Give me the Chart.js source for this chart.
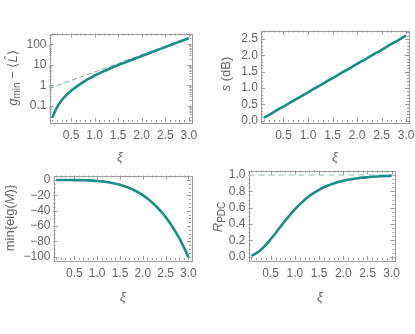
<!DOCTYPE html>
<html>
<head>
<meta charset="utf-8">
<script src="https://cdn.jsdelivr.net/npm/chart.js@4.4.1/dist/chart.umd.min.js"></script>
<style>
  html, body { margin: 0; padding: 0; background: #fff; }
  #wrap { position: relative; width: 415px; height: 334px; overflow: hidden; }
  #wrap canvas { position: absolute; left: 0; top: 0; }
</style>
</head>
<body>
<div id="wrap">
  <canvas id="c1" width="415" height="334"></canvas>
  <canvas id="c2" width="415" height="334"></canvas>
  <canvas id="c3" width="415" height="334"></canvas>
  <canvas id="c4" width="415" height="334"></canvas>
</div>
<script>
// squeezing parameter xi (shared by all four panels)
const xi = [0.1, 0.2, 0.3, 0.4, 0.5, 0.6, 0.7, 0.8, 0.9, 1.0,
            1.1, 1.2, 1.3, 1.4, 1.5, 1.6, 1.7, 1.8, 1.9, 2.0,
            2.1, 2.2, 2.3, 2.4, 2.5, 2.6, 2.7, 2.8, 2.9, 3.0];

// top left: g_min - <L>  (log axis)
const gMinusL = [0.027, 0.085, 0.19, 0.34, 0.55, 0.83, 1.2, 1.68, 2.28, 3.0,
                 3.9, 5.0, 6.3, 7.9, 9.8, 12.1, 14.8, 18.1, 22.2, 27.1,
                 33.2, 40.6, 49.6, 60.6, 74.1, 90.5, 110.6, 135, 165, 201];
// dashed asymptote (straight on the log axis)
const asymXi = [0.042, 3.0];
const asymVals = [0.72, 215];

// top right: s (dB)
const sDb = [0.09, 0.17, 0.26, 0.35, 0.43, 0.52, 0.61, 0.69, 0.78, 0.87,
             0.96, 1.04, 1.13, 1.22, 1.30, 1.39, 1.48, 1.56, 1.65, 1.74,
             1.82, 1.91, 2.00, 2.08, 2.17, 2.26, 2.35, 2.43, 2.52, 2.61];

// bottom left: min{eig(M)}
const minEig = [0, 0, -0.01, -0.03, -0.08, -0.16, -0.3, -0.51, -0.81, -1.23,
                -1.81, -2.56, -3.53, -4.74, -6.25, -8.09, -10.3, -13.0, -16.1, -19.8,
                -24.0, -28.9, -34.5, -41.0, -48.2, -56.4, -65.6, -75.9, -87.3, -100.4];

// bottom right: R_PDC, with dashed limit at 1
const rPdc = [0.01, 0.04, 0.085, 0.144, 0.214, 0.288, 0.365, 0.441, 0.513, 0.58,
              0.641, 0.695, 0.743, 0.784, 0.819, 0.85, 0.875, 0.896, 0.914, 0.929,
              0.942, 0.952, 0.961, 0.968, 0.973, 0.978, 0.982, 0.985, 0.988, 0.99];
const rLimit = 1;

// tick labels
const xTicks = [0.5, 1.0, 1.5, 2.0, 2.5, 3.0];
const gTicks = [0.1, 1, 10, 100];
const sTicks = [0, 0.5, 1.0, 1.5, 2.0, 2.5];
const eigTicks = [0, -20, -40, -60, -80, -100];
const rTicks = [0, 0.2, 0.4, 0.6, 0.8, 1.0];

const TEAL = '#1c8c87';
const FRAME = '#9c9c9c';
const TXT = '#666666';
const FONT = '"Liberation Sans", Arial, sans-serif';
const XMIN = 0.042, XMAX = 3.058;

const pts = (xs, ys) => xs.map((x, i) => ({ x: x, y: ys[i] }));

// draws a label made of plain / italic / subscript pieces
function drawRich(ctx, segs, cx, cy, rotate) {
  const fontOf = s => (s.it ? 'italic ' : '') + (s.sub ? 10 : 13) + 'px ' + FONT;
  ctx.save();
  ctx.translate(cx, cy);
  if (rotate) ctx.rotate(-Math.PI / 2);
  let total = 0;
  segs.forEach(s => { ctx.font = fontOf(s); s.w = ctx.measureText(s.t).width; total += s.w; });
  let x = -total / 2;
  ctx.fillStyle = TXT;
  ctx.textBaseline = 'middle';
  ctx.textAlign = 'left';
  segs.forEach(s => {
    ctx.font = fontOf(s);
    ctx.fillText(s.t, x, s.sub ? 4 : 0);
    x += s.w;
  });
  ctx.restore();
}

// Mathematica-like frame: box with inward ticks on all four sides + axis titles
const framePlugin = {
  id: 'frame',
  beforeDatasetsDraw(chart, args, opts) {
    const ctx = chart.ctx;
    const a = chart.chartArea;
    const xs = chart.scales.x, ys = chart.scales.y;
    ctx.save();
    ctx.strokeStyle = FRAME;
    ctx.lineWidth = 1;
    ctx.strokeRect(Math.round(a.left) + 0.5, Math.round(a.top) + 0.5,
                   Math.round(a.right - a.left), Math.round(a.bottom - a.top));
    ctx.beginPath();
    const xTick = (v, len) => {
      const p = Math.round(xs.getPixelForValue(v)) + 0.5;
      if (p < a.left || p > a.right) return;
      ctx.moveTo(p, a.bottom); ctx.lineTo(p, a.bottom - len);
      ctx.moveTo(p, a.top); ctx.lineTo(p, a.top + len);
    };
    const yTick = (v, len) => {
      const p = Math.round(ys.getPixelForValue(v)) + 0.5;
      if (p < a.top || p > a.bottom) return;
      ctx.moveTo(a.left, p); ctx.lineTo(a.left + len, p);
      ctx.moveTo(a.right, p); ctx.lineTo(a.right - len, p);
    };
    for (let k = 1; k <= 30; k++) xTick(k / 10, k % 5 === 0 ? 4 : 2);
    opts.yMajor.forEach(v => yTick(v, 4));
    opts.yMinor.forEach(v => yTick(v, 2));
    ctx.stroke();
    ctx.restore();
  },
  afterDraw(chart, args, opts) {
    drawRich(chart.ctx, opts.yTitle, opts.yPos[0], opts.yPos[1], true);
    drawRich(chart.ctx, [{ t: 'ξ', it: true }], opts.xPos[0], opts.xPos[1], false);
  }
};

function makePanel(id, box, yScale, datasets, frameOpts) {
  const AXH = 22;
  return new Chart(document.getElementById(id), {
    type: 'line',
    data: { datasets: datasets },
    options: {
      responsive: false,
      animation: false,
      events: [],
      layout: { padding: { left: 0, top: box.t, right: 415 - box.r, bottom: 334 - box.b - AXH } },
      plugins: { legend: { display: false }, tooltip: { enabled: false }, frame: frameOpts },
      elements: { point: { radius: 0 } },
      scales: {
        x: {
          type: 'linear', min: XMIN, max: XMAX,
          grid: { display: false, drawTicks: false }, border: { display: false },
          afterBuildTicks: s => { s.ticks = xTicks.map(v => ({ value: v })); },
          afterFit: s => { s.height = AXH; s.paddingLeft = 0; s.paddingRight = 0; },
          ticks: { autoSkip: false, maxRotation: 0, padding: 6, color: TXT,
                   font: { family: FONT, size: 12 }, callback: v => v.toFixed(1) }
        },
        y: Object.assign({
          grid: { display: false, drawTicks: false }, border: { display: false },
          afterFit: s => { s.width = box.l; s.paddingTop = 0; s.paddingBottom = 0; }
        }, yScale)
      }
    },
    plugins: [framePlugin]
  });
}

const mainLine = data => ({
  data: data, borderColor: TEAL, borderWidth: 2.6, cubicInterpolationMode: 'monotone',
  fill: false, borderCapStyle: 'butt'
});
const yTickOpts = fmt => ({
  autoSkip: false, padding: 3, color: TXT, font: { family: FONT, size: 12 },
  callback: v => fmt(v)
});
const minus = v => (v < 0 ? '\u2212' + Math.abs(v) : String(v));

// top left
const gMinor = [];
[0.01, 0.1, 1, 10, 100].forEach(d => { for (let m = 2; m <= 9; m++) gMinor.push(d * m); });
makePanel('c1', { l: 49.5, t: 33.5, r: 191.5, b: 122 }, {
  type: 'logarithmic', min: 0.0167, max: 340,
  afterBuildTicks: s => { s.ticks = gTicks.map(v => ({ value: v })); },
  ticks: yTickOpts(v => String(v))
}, [
  mainLine(pts(xi, gMinusL)),
  { data: pts(asymXi, asymVals), borderColor: 'rgba(100,145,142,0.9)', borderWidth: 0.9,
    borderDash: [5, 3], fill: false }
], {
  yMajor: gTicks, yMinor: gMinor,
  yTitle: [{ t: 'g', it: true }, { t: 'min', sub: true }, { t: ' \u2212 \u27E8' }, { t: 'L\u0302', it: true }, { t: '\u27E9' }],
  yPos: [13, 78], xPos: [120, 157]
});

// top right
const sMinor = [];
for (let k = 0; k <= 27; k++) sMinor.push(k / 10);
makePanel('c2', { l: 261, t: 30.5, r: 409, b: 122 }, {
  type: 'linear', min: -0.04, max: 2.76,
  afterBuildTicks: s => { s.ticks = sTicks.map(v => ({ value: v })); },
  ticks: yTickOpts(v => v.toFixed(1))
}, [
  mainLine(pts(xi, sDb))
], {
  yMajor: sTicks, yMinor: sMinor,
  yTitle: [{ t: 's', it: true }, { t: ' (dB)' }],
  yPos: [226, 74], xPos: [335, 157]
});

// bottom left
const eMinor = [];
for (let k = 0; k <= 20; k++) eMinor.push(-5 * k);
makePanel('c3', { l: 53.5, t: 175.5, r: 191, b: 260 }, {
  type: 'linear', min: -104.3, max: 5.9,
  afterBuildTicks: s => { s.ticks = eigTicks.map(v => ({ value: v })); },
  ticks: yTickOpts(minus)
}, [
  mainLine(pts(xi, minEig))
], {
  yMajor: eigTicks, yMinor: eMinor,
  yTitle: [{ t: 'min{eig(' }, { t: 'M', it: true }, { t: ')}' }],
  yPos: [10, 218], xPos: [123, 297]
});

// bottom right
const rMinor = [];
for (let k = 0; k <= 21; k++) rMinor.push(k * 0.05);
makePanel('c4', { l: 248.5, t: 170.5, r: 394.5, b: 260 }, {
  type: 'linear', min: -0.04, max: 1.055,
  afterBuildTicks: s => { s.ticks = rTicks.map(v => ({ value: v })); },
  ticks: yTickOpts(v => v.toFixed(1))
}, [
  mainLine(pts(xi, rPdc)),
  { data: [{ x: XMIN, y: rLimit }, { x: XMAX, y: rLimit }], borderColor: '#bfd4d1',
    borderWidth: 1.6, borderDash: [6, 4], fill: false }
], {
  yMajor: rTicks, yMinor: rMinor,
  yTitle: [{ t: 'R', it: true }, { t: 'PDC', sub: true }],
  yPos: [218, 217], xPos: [320, 297]
});
</script>
</body>
</html>
